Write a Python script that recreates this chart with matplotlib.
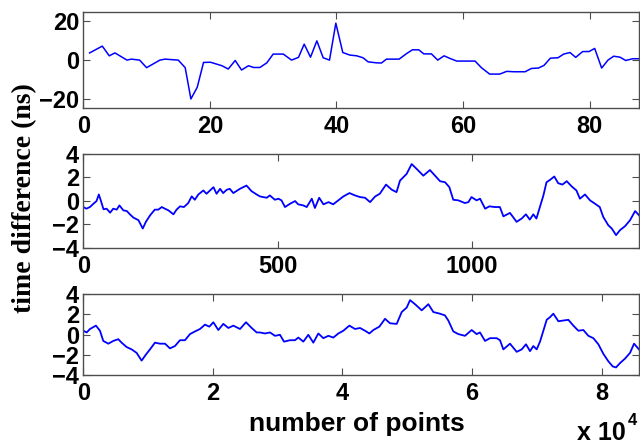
import numpy as np
import matplotlib
matplotlib.use("Agg")
import matplotlib.pyplot as plt

# hourly-ish series (top panel), vertices
hour_x = [1, 3, 4.1, 5, 6.9, 7.6, 8.9, 10, 12.1, 12.9, 15, 16.1, 17, 18, 19, 20.1,
          21.9, 22.9, 24, 25, 26.1, 26.9, 27.9, 29, 30, 31.6, 32.9, 34, 34.9, 35.9,
          36.9, 37.9, 38.9, 39.9, 41, 42.1, 43.2, 44.2, 45, 46.3, 47.1, 47.9, 49.9,
          51.1, 52, 53, 53.8, 55, 56, 57, 57.9, 59, 61.9, 62.9, 64.2, 65.8, 66.9,
          68, 69.8, 70.8, 71.9, 72.8, 73.8, 75, 75.9, 76.9, 77.8, 78.9, 79.9, 80.8,
          81.9, 82.9, 83.8, 84.8, 85.7, 86.8, 87.7]
hour_y = [3.7, 7.2, 2.2, 3.7, 0.0, 0.5, 0.0, -3.9, 0.0, 0.5, 0.0, -3.9, -20.0, -14.0,
          -1.2, -1.1, -2.9, -4.6, -0.2, -5.1, -2.9, -3.8, -3.8, -1.4, 3.1, 3.1, 0.0,
          1.4, 8.2, 1.5, 9.9, 1.2, 0.0, 19.0, 3.9, 2.6, 2.2, 1.2, -0.9, -1.4, -1.5,
          0.5, 0.5, 3.4, 5.3, 5.3, 3.2, 3.2, 0.0, 2.2, 0.9, -0.5, -0.5, -3.9, -7.2,
          -7.2, -5.8, -6.0, -6.0, -4.3, -4.1, -2.7, 1.0, 1.2, 3.1, 3.9, 1.4, 4.4,
          4.4, 6.0, -4.1, 0.0, 2.0, 1.5, -0.2, 0.7, 0.7]

# per-minute series (middle panel)
min_x = [0, 8, 17, 26, 34, 40, 45, 52, 60, 69, 77, 86, 93, 103, 112, 120, 129, 142,
         153, 161, 172, 184, 193, 202, 210, 219, 232, 240, 249, 259, 270, 279, 287,
         296, 309, 317, 335, 343, 352, 360, 369, 377, 386, 403, 420, 433, 446, 455,
         472, 480, 493, 502, 510, 519, 532, 545, 553, 566, 575, 588, 596, 607, 618,
         631, 643, 656, 669, 685, 699, 712, 725, 738, 751, 763, 779, 794, 806, 815,
         832, 845, 858, 875, 892, 905, 918, 931, 942, 952, 965, 982, 991, 999, 1012,
         1021, 1034, 1045, 1059, 1072, 1081, 1098, 1115, 1128, 1139, 1149, 1158,
         1166, 1175, 1184, 1192, 1201, 1212, 1222, 1233, 1244, 1257, 1269, 1278,
         1291, 1304, 1317, 1329, 1338, 1351, 1360, 1371, 1381, 1394, 1407, 1420, 1430]
min_y = [-0.54, -0.68, -0.54, -0.26, -0.03, 0.53, 0.02, -0.73, -0.68, -1.02, -0.68,
         -0.76, -0.40, -0.82, -0.88, -1.16, -1.44, -1.66, -2.37, -1.80, -1.24, -0.76,
         -0.76, -0.54, -0.68, -0.82, -1.16, -0.76, -0.48, -0.54, -0.20, 0.37, 0.08,
         0.53, 0.87, 0.59, 1.15, 0.59, 1.01, 0.65, 0.93, 1.01, 0.65, 1.01, 1.29, 0.81,
         0.53, 0.36, 0.25, 0.45, 0.08, 0.17, 0.03, -0.54, -0.26, -0.03, -0.31, -0.40,
         -0.54, 0.17, -0.62, 0.25, -0.31, -0.12, -0.31, 0.03, 0.36, 0.65, 0.45, 0.31,
         0.25, -0.12, 0.36, 0.59, 1.37, 0.93, 0.73, 1.71, 2.28, 3.12, 2.70, 2.13, 2.61,
         2.13, 1.66, 1.57, 1.15, 0.08, 0.03, -0.20, -0.12, 0.31, 0.03, 0.17, -0.68,
         -0.48, -0.54, -0.54, -1.33, -1.04, -1.80, -1.52, -1.16, -1.61, -1.16, -1.52,
         -0.54, 0.45, 1.57, 1.77, 2.06, 1.49, 1.37, 1.66, 1.21, 0.87, 0.17, 0.53, 0.03,
         -0.26, -0.54, -1.38, -2.09, -2.37, -2.93, -2.51, -2.17, -1.66, -0.88, -1.24]

# per-second series (bottom panel)
sec_x = [0, 525, 1030, 1955, 2570, 3085, 3858, 4630, 5400, 5914, 6686, 7458, 8230,
         9000, 9670, 10288, 11060, 11832, 12604, 13375, 14147, 14920, 15692, 16463,
         17235, 18007, 18780, 19450, 20066, 20838, 21610, 22383, 23155, 24184, 25110,
         25986, 26758, 27268, 28040, 28811, 29583, 30355, 30972, 31898, 32670, 33185,
         33957, 34729, 35500, 36273, 37045, 37817, 38589, 39361, 40133, 41059, 41934,
         42706, 43478, 44147, 44764, 45690, 46565, 47337, 48366, 49138, 49910, 50425,
         51197, 52226, 53255, 54027, 55046, 55818, 56333, 57105, 57877, 58906, 59935,
         60707, 61222, 61994, 62765, 63794, 64309, 64824, 65853, 66882, 67654, 68323,
         68940, 69455, 69970, 70484, 71000, 71513, 72027, 72540, 73314, 74085, 74857,
         75629, 76400, 77173, 77945, 78717, 79489, 80261, 81033, 81702, 82216, 82834,
         83606, 84378, 84995, 85760]
sec_y = [0.37, 0.20, 0.54, 0.87, 0.37, -0.63, -0.90, -0.63, -0.46, -0.80, -1.23,
         -1.46, -1.80, -2.56, -1.96, -1.46, -0.80, -0.90, -0.90, -1.36, -1.13, -0.56,
         -0.56, 0.04, 0.30, 0.54, 0.97, 0.77, 1.20, 0.44, 1.04, 0.64, 0.87, 0.54, 1.20,
         0.64, 0.20, 0.20, 0.10, 0.20, -0.13, -0.03, -0.70, -0.56, -0.56, -0.30, -0.70,
         -0.03, -0.80, 0.10, -0.36, -0.13, -0.30, 0.10, 0.37, 0.87, 0.54, 0.64, 0.37,
         0.10, 0.44, 0.77, 1.54, 1.10, 1.04, 2.20, 2.64, 3.37, 2.97, 2.37, 2.97, 2.20,
         2.04, 1.87, 1.37, 0.30, 0.04, -0.13, 0.44, 0.04, 0.20, -0.63, -0.36, -0.36,
         -0.56, -1.46, -0.90, -1.70, -1.46, -0.96, -1.63, -1.13, -1.46, -0.70, 0.37,
         1.44, 1.70, 2.04, 1.30, 1.37, 1.44, 0.87, 0.37, 0.44, -0.13, -0.36, -0.96,
         -1.90, -2.63, -3.13, -3.23, -2.80, -2.36, -1.80, -0.90, -1.46]

W, H = 640, 444
fig = plt.figure(figsize=(W / 100, H / 100), dpi=100)

tick_font = dict(family="Liberation Sans", weight="bold", size=17)

def make_axes(top_px, bot_px):
    left = 83.3 / W
    width = (639 - 83.3) / W
    return fig.add_axes([left, 1 - bot_px / H, width, (bot_px - top_px) / H])

def style(ax):
    ax.tick_params(direction="in", top=True, right=True, length=5, width=0.8,
                   color="0.3")
    ax.tick_params(axis="x", pad=5)
    ax.tick_params(axis="y", pad=3)
    for s in ax.spines.values():
        s.set_color("0.3")
        s.set_linewidth(1.0)
    for lab in ax.get_xticklabels() + ax.get_yticklabels():
        lab.set_fontproperties(matplotlib.font_manager.FontProperties(**tick_font))

ax1 = make_axes(12.5, 107.7)
ax1.plot(hour_x, hour_y, color="#0000ff", lw=1.1)
ax1.set_xlim(0, 87.8)
ax1.set_ylim(-24.5, 24.5)
ax1.set_xticks([0, 20, 40, 60, 80])
ax1.set_yticks([-20, 0, 20])
style(ax1)

ax2 = make_axes(153.7, 247.7)
ax2.plot(min_x, min_y, color="#0000ff", lw=1.3)
ax2.set_xlim(0, 1430)
ax2.set_ylim(-4, 4)
ax2.set_xticks([0, 500, 1000])
ax2.set_yticks([-4, -2, 0, 2, 4])
style(ax2)

ax3 = make_axes(293.7, 375.3)
ax3.plot(sec_x, sec_y, color="#0000ff", lw=1.3)
ax3.set_xlim(0, 85760)
ax3.set_ylim(-4, 4)
ax3.set_xticks([0, 20000, 40000, 60000, 80000])
ax3.set_xticklabels(["0", "2", "4", "6", "8"])
ax3.set_yticks([-4, -2, 0, 2, 4])
style(ax3)

fig.text(25 / W, 1 - 198 / H, "time difference (ns)", rotation=90,
         ha="center", va="center", family="Liberation Serif", weight="bold", size=20)
fig.text(357 / W, 1 - 424 / H, "number of points", ha="center", va="center",
         family="Liberation Sans", weight="bold", size=19)
fig.text(577 / W, 1 - 433 / H, "x 10", ha="left", va="center",
         family="Liberation Sans", weight="bold", size=18)
fig.text(628 / W, 1 - 420 / H, "4", ha="left", va="center",
         family="Liberation Sans", weight="bold", size=12)

fig.savefig("out.png", dpi=100)
